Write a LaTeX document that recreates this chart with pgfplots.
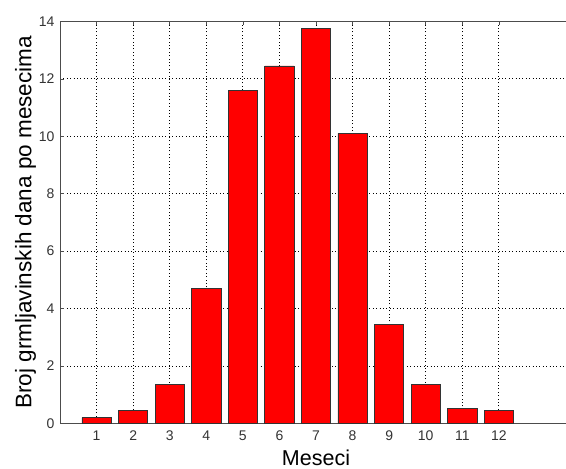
\documentclass[border=0pt]{standalone}
\usepackage{pgfplots}
\pgfplotsset{compat=1.18}
\usepackage{fontspec}
\setmainfont{Liberation Sans}
\begin{document}
\begin{tikzpicture}
\begin{axis}[
  scale only axis,
  width=512bp, height=401.8bp,
  xmin=0, xmax=14, ymin=0, ymax=14,
  xtick={1,2,...,12}, ytick={0,2,...,14},
  ybar, bar width=0.8, bar shift=0pt,
  grid=major,
  major grid style={black, dash pattern=on 0.8bp off 2.6bp, line width=0.8pt},
  tick align=inside,
  major tick length=4bp,
  axis line style={black!70, line width=0.8pt},
  tick style={black!70, line width=0.6pt},
  /pgf/number format/assume math mode=true,
  ticklabel style={font=\fontsize{14bp}{16bp}\selectfont, text=black!80},
  xticklabel style={yshift=-4bp},
  yticklabel style={xshift=-2bp},
  xlabel={Meseci},
  ylabel={Broj grmljavinskih dana po mesecima},
  xlabel style={font=\fontsize{21.5bp}{24bp}\selectfont, yshift=-2bp},
  ylabel style={font=\fontsize{22.5bp}{24bp}\selectfont, yshift=-4bp},
]
\addplot[fill=red, draw=black!80, line width=0.8pt] coordinates {
(1,0.2) (2,0.45) (3,1.35) (4,4.7) (5,11.6) (6,12.45)
(7,13.75) (8,10.1) (9,3.45) (10,1.35) (11,0.52) (12,0.45)
};
\end{axis}
\pgfresetboundingbox
\useasboundingbox ([xshift=-60bp,yshift=-45.7bp]current axis.south west) rectangle ([xshift=506bp,yshift=423.3bp]current axis.south west);
\end{tikzpicture}
\end{document}
